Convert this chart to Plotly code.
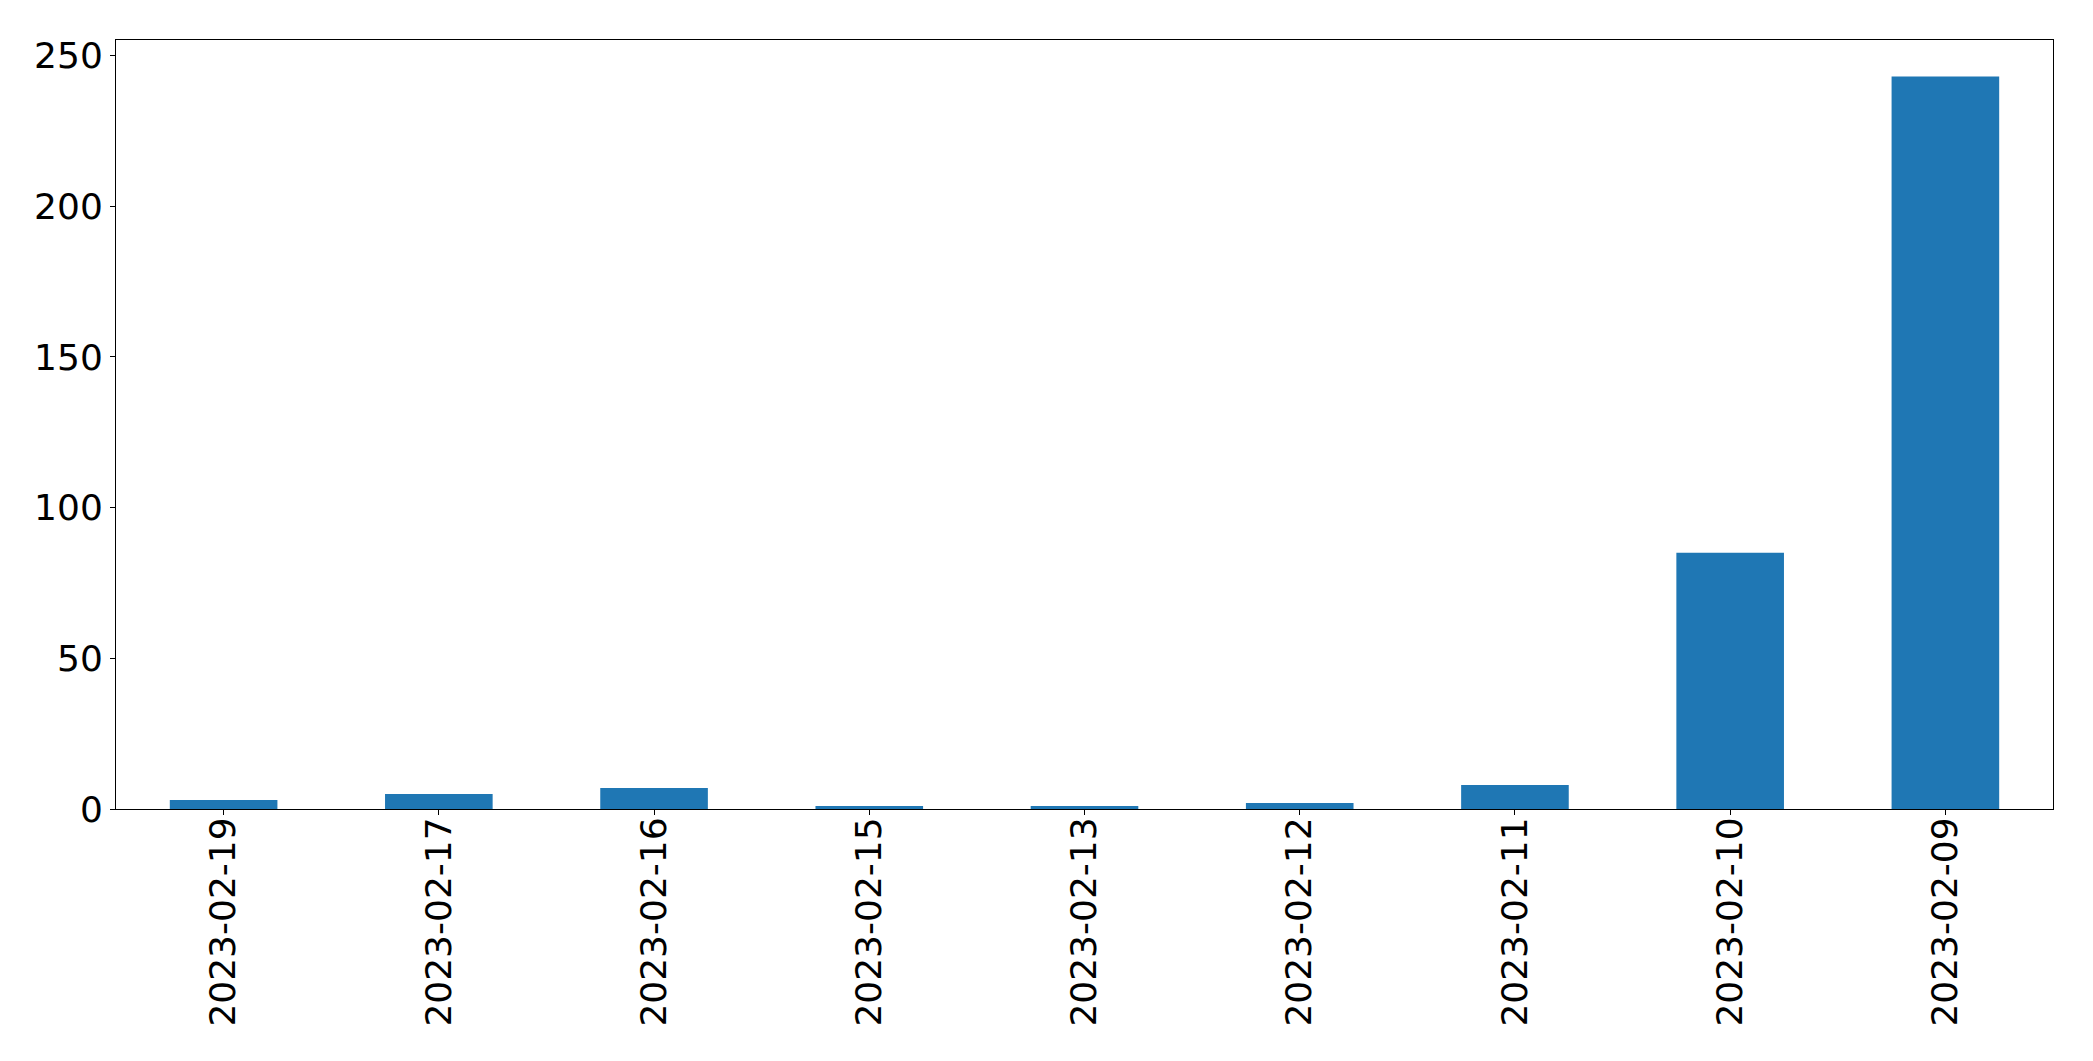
import plotly.graph_objects as go

dates = ["2023-02-19", "2023-02-17", "2023-02-16", "2023-02-15", "2023-02-13",
         "2023-02-12", "2023-02-11", "2023-02-10", "2023-02-09"]
counts = [3, 5, 7, 1, 1, 2, 8, 85, 243]

fig = go.Figure(go.Bar(x=dates, y=counts, marker=dict(color="#1f77b4", line=dict(width=0)), width=0.5))

fig.update_layout(
    width=2085, height=1053,
    margin=dict(l=108, r=40, t=32, b=252, autoexpand=False),
    plot_bgcolor="white", paper_bgcolor="white",
    font=dict(family="DejaVu Sans", size=36, color="black"),
    showlegend=False,
    bargap=0.5,
)
fig.update_xaxes(
    type="category", range=[-0.5, 8.5], tickangle=-90, automargin=False,
    showline=True, linecolor="black", linewidth=1, mirror=True,
    ticks="outside", ticklen=5, tickcolor="black", showgrid=False,
    ticklabelstandoff=-12,
)
fig.update_yaxes(
    range=[0, 255.15], tickvals=[0, 50, 100, 150, 200, 250], automargin=False,
    showline=True, linecolor="black", linewidth=1, mirror=True,
    ticks="outside", ticklen=5, tickcolor="black", showgrid=False, zeroline=False,
)

fig.write_html("out.html")
